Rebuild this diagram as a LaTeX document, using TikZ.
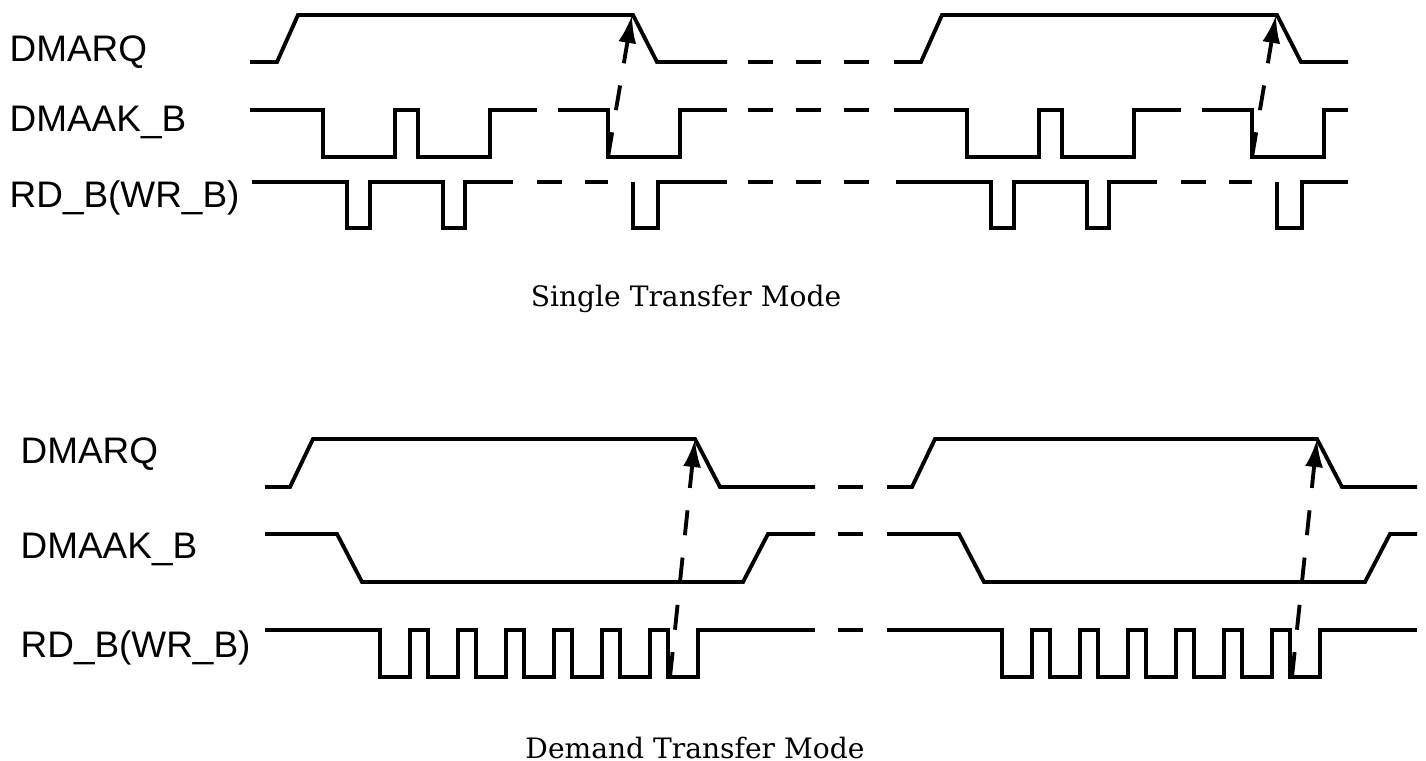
\documentclass[tikz,border=0pt]{standalone}
\usepackage{fontspec}
\setmainfont{Liberation Serif}
\newfontfamily\signalfont{Liberation Sans}
\newfontfamily\modefont{DejaVu Serif}
\usetikzlibrary{arrows.meta}
\tikzset{
  wave/.style={line width=1.1pt, line join=miter},
  gapdash/.style={wave, dash pattern=on 0.245cm off 0.235cm},
  dep/.style={line width=1.1pt, dash pattern=on 0.25cm off 0.225cm,
    -{Latex[length=0.28cm,width=0.18cm]}},
  signame/.style={anchor=base west, inner sep=0pt,
    font=\signalfont\fontsize{10.5pt}{12pt}\selectfont},
  modename/.style={anchor=base, inner sep=0pt,
    font=\modefont\fontsize{8pt}{10pt}\selectfont}
}
\begin{document}
\begin{tikzpicture}[x=0.01cm, y=-0.01cm]
        \useasboundingbox (0,0) rectangle (1426,761);
        %Tên tín hiệu
            \node[signame] (rqA) at (9,62) {DMARQ};
            \node[signame] (akA) at (9,132) {DMAAK\_B};
            \node[signame] (rdA) at (9,208) {RD\_B(WR\_B)};
            \node[signame] (rqB) at (20,464) {DMARQ};
            \node[signame] (akB) at (20,559) {DMAAK\_B};
            \node[signame] (rdB) at (20,658) {RD\_B(WR\_B)};
        %Single transfer
        \foreach \o/\e/\n in {0/727/1, 644/1348/2}{
            \draw[wave] (250+\o,62)--(277+\o,62)--(298+\o,15)--(633+\o,15)--(657+\o,62)--(\e,62);
            \draw[wave] (250+\o,110)--(323+\o,110)--(323+\o,157)--(395+\o,157)--(395+\o,110)
                --(418+\o,110)--(418+\o,157)--(490+\o,157)--(490+\o,110)--(537+\o,110);
            \draw[wave] (558+\o,110)--(608+\o,110)--(608+\o,157)--(680+\o,157)--(680+\o,110)--(\e,110);
            \draw[wave] (252+\o,182)--(347+\o,182)--(347+\o,228)--(370+\o,228)--(370+\o,182)
                --(443+\o,182)--(443+\o,228)--(465+\o,228)--(465+\o,182)--(513+\o,182);
            \draw[gapdash] (537+\o,182)--(608+\o,182);
            \draw[wave] (633+\o,182)--(633+\o,228)--(658+\o,228)--(658+\o,182)--(\e,182);
            \coordinate (ackS\n) at (608+\o,157);
            \coordinate (reqS\n) at (632+\o,15);
            \draw[dep] (ackS\n)--(reqS\n);
        }
        \foreach \y in {62,110,182}{\draw[gapdash] (748,\y)--(870,\y);}
        %Demand transfer
        \foreach \o/\e/\n in {0/815/1, 622/1417/2}{
            \draw[wave] (265+\o,487)--(290+\o,487)--(313+\o,439)--(695+\o,439)--(720+\o,487)--(\e,487);
            \draw[wave] (265+\o,534)--(337+\o,534)--(362+\o,582)--(743+\o,582)--(768+\o,534)--(\e,534);
            \draw[wave] (265+\o,630)
                \foreach \k in {0,...,6}{
                    --(380+\o+48*\k,630)--(380+\o+48*\k,677)--(410+\o+48*\k,677)--(410+\o+48*\k,630)
                }--(\e,630);
            \coordinate (rdD\n) at (670+\o,677);
            \coordinate (reqD\n) at (695+\o,439);
            \draw[dep] (rdD\n)--(reqD\n);
        }
        \foreach \y in {487,534,630}{\draw[wave] (838,\y)--(863,\y);}
        %Tên chế độ
            \node[modename] (single) at (686,307) {Single Transfer Mode};
            \node[modename] (demand) at (695,759) {Demand Transfer Mode};
\end{tikzpicture}
\end{document}
